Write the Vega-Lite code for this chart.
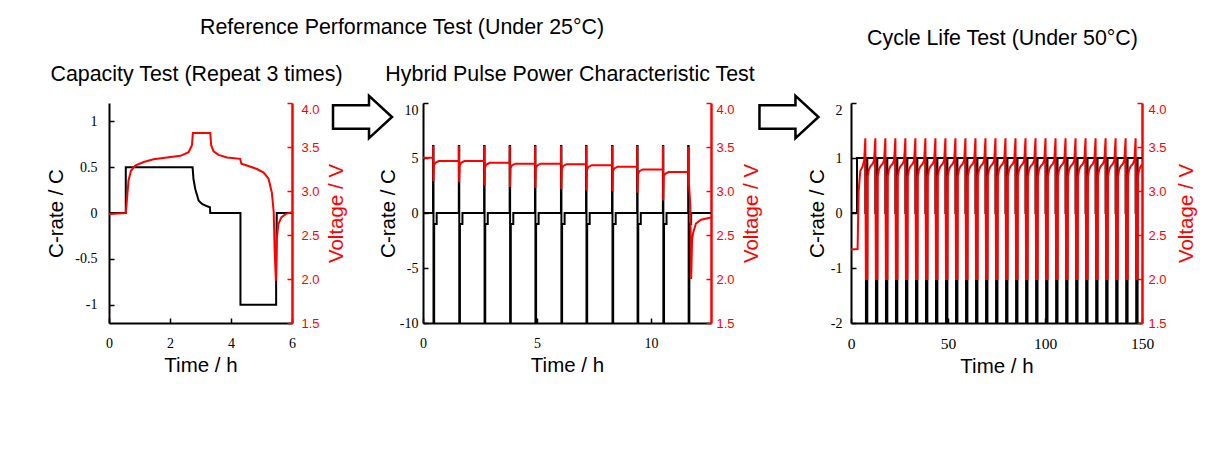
{
  "$schema": "https://vega.github.io/schema/vega-lite/v6.json",
  "background": "white",
  "padding": {"left": 46, "top": 17, "right": 5, "bottom": 5},
  "title": {"text": "Reference Performance Test (Under 25°C)", "anchor": "start", "frame": "group", "dx": 91, "offset": -11, "fontSize": 21.4},
  "bounds": "flush",
  "spacing": 10,
  "datasets": {
    "cap_c": [{"t":0,"c":0},{"t":0.55,"c":0},{"t":0.55,"c":0.5},{"t":2.74,"c":0.5},{"t":2.77,"c":0.37},{"t":2.83,"c":0.26},{"t":2.89,"c":0.19},{"t":2.94,"c":0.134},{"t":3.05,"c":0.098},{"t":3.22,"c":0.073},{"t":3.31,"c":0.062},{"t":3.32,"c":0},{"t":4.31,"c":0},{"t":4.31,"c":-1},{"t":5.48,"c":-1},{"t":5.48,"c":-0.73},{"t":5.5,"c":0},{"t":6,"c":0}],
    "cap_v": [{"t":0,"v":2.74},{"t":0.55,"v":2.75},{"t":0.59,"v":2.91},{"t":0.64,"v":3.12},{"t":0.72,"v":3.23},{"t":0.86,"v":3.29},{"t":1.14,"v":3.33},{"t":1.46,"v":3.36},{"t":1.9,"v":3.38},{"t":2.34,"v":3.4},{"t":2.61,"v":3.44},{"t":2.72,"v":3.52},{"t":2.75,"v":3.66},{"t":3.32,"v":3.66},{"t":3.35,"v":3.52},{"t":3.43,"v":3.45},{"t":3.59,"v":3.41},{"t":3.87,"v":3.38},{"t":4.3,"v":3.365},{"t":4.34,"v":3.31},{"t":4.52,"v":3.29},{"t":4.85,"v":3.25},{"t":5.07,"v":3.21},{"t":5.23,"v":3.14},{"t":5.34,"v":2.98},{"t":5.4,"v":2.76},{"t":5.43,"v":2.34},{"t":5.47,"v":1.98},{"t":5.5,"v":2.45},{"t":5.55,"v":2.62},{"t":5.65,"v":2.7},{"t":5.8,"v":2.74},{"t":6,"v":2.76}],
    "hppc_c": [{"t":0,"c":0},
      {"t":0.44,"c":0},{"t":0.44,"c":6.1},{"t":0.46,"c":6.1},{"t":0.46,"c":-10},{"t":0.49,"c":-10},{"t":0.49,"c":-1},{"t":0.6,"c":-1},{"t":0.6,"c":0},
      {"t":1.57,"c":0},{"t":1.57,"c":6.1},{"t":1.59,"c":6.1},{"t":1.59,"c":-10},{"t":1.62,"c":-10},{"t":1.62,"c":-1},{"t":1.73,"c":-1},{"t":1.73,"c":0},
      {"t":2.68,"c":0},{"t":2.68,"c":6.1},{"t":2.7,"c":6.1},{"t":2.7,"c":-10},{"t":2.73,"c":-10},{"t":2.73,"c":-1},{"t":2.84,"c":-1},{"t":2.84,"c":0},
      {"t":3.8,"c":0},{"t":3.8,"c":6.1},{"t":3.82,"c":6.1},{"t":3.82,"c":-10},{"t":3.85,"c":-10},{"t":3.85,"c":-1},{"t":3.96,"c":-1},{"t":3.96,"c":0},
      {"t":4.91,"c":0},{"t":4.91,"c":6.1},{"t":4.93,"c":6.1},{"t":4.93,"c":-10},{"t":4.96,"c":-10},{"t":4.96,"c":-1},{"t":5.07,"c":-1},{"t":5.07,"c":0},
      {"t":6.05,"c":0},{"t":6.05,"c":6.1},{"t":6.07,"c":6.1},{"t":6.07,"c":-10},{"t":6.1,"c":-10},{"t":6.1,"c":-1},{"t":6.21,"c":-1},{"t":6.21,"c":0},
      {"t":7.15,"c":0},{"t":7.15,"c":6.1},{"t":7.17,"c":6.1},{"t":7.17,"c":-10},{"t":7.2,"c":-10},{"t":7.2,"c":-1},{"t":7.31,"c":-1},{"t":7.31,"c":0},
      {"t":8.29,"c":0},{"t":8.29,"c":6.1},{"t":8.31,"c":6.1},{"t":8.31,"c":-10},{"t":8.34,"c":-10},{"t":8.34,"c":-1},{"t":8.45,"c":-1},{"t":8.45,"c":0},
      {"t":9.39,"c":0},{"t":9.39,"c":6.1},{"t":9.41,"c":6.1},{"t":9.41,"c":-10},{"t":9.44,"c":-10},{"t":9.44,"c":-1},{"t":9.55,"c":-1},{"t":9.55,"c":0},
      {"t":10.52,"c":0},{"t":10.52,"c":6.1},{"t":10.54,"c":6.1},{"t":10.54,"c":-10},{"t":10.57,"c":-10},{"t":10.57,"c":-1},{"t":10.68,"c":-1},{"t":10.68,"c":0},
      {"t":11.63,"c":0},{"t":11.63,"c":6.1},{"t":11.65,"c":6.1},{"t":11.65,"c":-10},{"t":11.68,"c":-10},{"t":11.68,"c":-1},{"t":11.76,"c":-1},{"t":11.76,"c":0},{"t":12.63,"c":0}],
    "hppc_v": [{"t":0,"v":3.378},
      {"t":0.44,"v":3.378},{"t":0.445,"v":3.51},{"t":0.455,"v":3.11},{"t":0.48,"v":3.29},{"t":0.54,"v":3.32},{"t":0.69,"v":3.34},
      {"t":1.57,"v":3.34},{"t":1.575,"v":3.51},{"t":1.585,"v":3.1},{"t":1.61,"v":3.29},{"t":1.67,"v":3.32},{"t":1.82,"v":3.34},
      {"t":2.68,"v":3.34},{"t":2.685,"v":3.51},{"t":2.695,"v":3.064},{"t":2.72,"v":3.27},{"t":2.78,"v":3.3},{"t":2.93,"v":3.32},
      {"t":3.8,"v":3.32},{"t":3.805,"v":3.51},{"t":3.815,"v":3.045},{"t":3.84,"v":3.26},{"t":3.9,"v":3.29},{"t":4.05,"v":3.31},
      {"t":4.91,"v":3.31},{"t":4.915,"v":3.51},{"t":4.925,"v":3.034},{"t":4.95,"v":3.26},{"t":5.01,"v":3.29},{"t":5.16,"v":3.31},
      {"t":6.05,"v":3.31},{"t":6.055,"v":3.51},{"t":6.065,"v":3.02},{"t":6.09,"v":3.255},{"t":6.15,"v":3.285},{"t":6.3,"v":3.305},
      {"t":7.15,"v":3.305},{"t":7.155,"v":3.51},{"t":7.165,"v":3.007},{"t":7.19,"v":3.243},{"t":7.25,"v":3.273},{"t":7.4,"v":3.293},
      {"t":8.29,"v":3.293},{"t":8.295,"v":3.51},{"t":8.305,"v":2.996},{"t":8.33,"v":3.226},{"t":8.39,"v":3.256},{"t":8.54,"v":3.276},
      {"t":9.39,"v":3.276},{"t":9.395,"v":3.51},{"t":9.405,"v":2.98},{"t":9.43,"v":3.195},{"t":9.49,"v":3.225},{"t":9.64,"v":3.245},
      {"t":10.52,"v":3.245},{"t":10.525,"v":3.51},{"t":10.535,"v":2.893},{"t":10.56,"v":3.166},{"t":10.62,"v":3.196},{"t":10.77,"v":3.216},
      {"t":11.63,"v":3.216},{"t":11.635,"v":3.5},{"t":11.645,"v":3.05},{"t":11.66,"v":3.1},{"t":11.72,"v":2.85},{"t":11.76,"v":2.0},{"t":11.8,"v":2.45},{"t":11.85,"v":2.53},{"t":11.97,"v":2.63},{"t":12.19,"v":2.674},{"t":12.63,"v":2.7}],
    "cycle_c": [{"t":0,"c":0},{"t":3.1,"c":0},{"t":3.1,"c":1},
      {"t":7.4,"c":1},{"t":7.4,"c":0},{"t":7.7,"c":0},{"t":7.7,"c":-2},{"t":8.4,"c":-2},{"t":8.4,"c":1},
      {"t":12.56,"c":1},{"t":12.56,"c":0},{"t":12.86,"c":0},{"t":12.86,"c":-2},{"t":13.56,"c":-2},{"t":13.56,"c":1},
      {"t":17.72,"c":1},{"t":17.72,"c":0},{"t":18.02,"c":0},{"t":18.02,"c":-2},{"t":18.72,"c":-2},{"t":18.72,"c":1},
      {"t":22.88,"c":1},{"t":22.88,"c":0},{"t":23.18,"c":0},{"t":23.18,"c":-2},{"t":23.88,"c":-2},{"t":23.88,"c":1},
      {"t":28.04,"c":1},{"t":28.04,"c":0},{"t":28.34,"c":0},{"t":28.34,"c":-2},{"t":29.04,"c":-2},{"t":29.04,"c":1},
      {"t":33.2,"c":1},{"t":33.2,"c":0},{"t":33.5,"c":0},{"t":33.5,"c":-2},{"t":34.2,"c":-2},{"t":34.2,"c":1},
      {"t":38.36,"c":1},{"t":38.36,"c":0},{"t":38.66,"c":0},{"t":38.66,"c":-2},{"t":39.36,"c":-2},{"t":39.36,"c":1},
      {"t":43.52,"c":1},{"t":43.52,"c":0},{"t":43.82,"c":0},{"t":43.82,"c":-2},{"t":44.52,"c":-2},{"t":44.52,"c":1},
      {"t":48.68,"c":1},{"t":48.68,"c":0},{"t":48.98,"c":0},{"t":48.98,"c":-2},{"t":49.68,"c":-2},{"t":49.68,"c":1},
      {"t":53.84,"c":1},{"t":53.84,"c":0},{"t":54.14,"c":0},{"t":54.14,"c":-2},{"t":54.84,"c":-2},{"t":54.84,"c":1},
      {"t":59,"c":1},{"t":59,"c":0},{"t":59.3,"c":0},{"t":59.3,"c":-2},{"t":60,"c":-2},{"t":60,"c":1},
      {"t":64.16,"c":1},{"t":64.16,"c":0},{"t":64.46,"c":0},{"t":64.46,"c":-2},{"t":65.16,"c":-2},{"t":65.16,"c":1},
      {"t":69.32,"c":1},{"t":69.32,"c":0},{"t":69.62,"c":0},{"t":69.62,"c":-2},{"t":70.32,"c":-2},{"t":70.32,"c":1},
      {"t":74.48,"c":1},{"t":74.48,"c":0},{"t":74.78,"c":0},{"t":74.78,"c":-2},{"t":75.48,"c":-2},{"t":75.48,"c":1},
      {"t":79.64,"c":1},{"t":79.64,"c":0},{"t":79.94,"c":0},{"t":79.94,"c":-2},{"t":80.64,"c":-2},{"t":80.64,"c":1},
      {"t":84.8,"c":1},{"t":84.8,"c":0},{"t":85.1,"c":0},{"t":85.1,"c":-2},{"t":85.8,"c":-2},{"t":85.8,"c":1},
      {"t":89.96,"c":1},{"t":89.96,"c":0},{"t":90.26,"c":0},{"t":90.26,"c":-2},{"t":90.96,"c":-2},{"t":90.96,"c":1},
      {"t":95.12,"c":1},{"t":95.12,"c":0},{"t":95.42,"c":0},{"t":95.42,"c":-2},{"t":96.12,"c":-2},{"t":96.12,"c":1},
      {"t":100.28,"c":1},{"t":100.28,"c":0},{"t":100.58,"c":0},{"t":100.58,"c":-2},{"t":101.28,"c":-2},{"t":101.28,"c":1},
      {"t":105.44,"c":1},{"t":105.44,"c":0},{"t":105.74,"c":0},{"t":105.74,"c":-2},{"t":106.44,"c":-2},{"t":106.44,"c":1},
      {"t":110.6,"c":1},{"t":110.6,"c":0},{"t":110.9,"c":0},{"t":110.9,"c":-2},{"t":111.6,"c":-2},{"t":111.6,"c":1},
      {"t":115.76,"c":1},{"t":115.76,"c":0},{"t":116.06,"c":0},{"t":116.06,"c":-2},{"t":116.76,"c":-2},{"t":116.76,"c":1},
      {"t":120.92,"c":1},{"t":120.92,"c":0},{"t":121.22,"c":0},{"t":121.22,"c":-2},{"t":121.92,"c":-2},{"t":121.92,"c":1},
      {"t":126.08,"c":1},{"t":126.08,"c":0},{"t":126.38,"c":0},{"t":126.38,"c":-2},{"t":127.08,"c":-2},{"t":127.08,"c":1},
      {"t":131.24,"c":1},{"t":131.24,"c":0},{"t":131.54,"c":0},{"t":131.54,"c":-2},{"t":132.24,"c":-2},{"t":132.24,"c":1},
      {"t":136.4,"c":1},{"t":136.4,"c":0},{"t":136.7,"c":0},{"t":136.7,"c":-2},{"t":137.4,"c":-2},{"t":137.4,"c":1},
      {"t":141.56,"c":1},{"t":141.56,"c":0},{"t":141.86,"c":0},{"t":141.86,"c":-2},{"t":142.56,"c":-2},{"t":142.56,"c":1},
      {"t":146.72,"c":1},{"t":146.72,"c":0},{"t":147.02,"c":0},{"t":147.02,"c":-2},{"t":147.72,"c":-2},{"t":147.72,"c":1},
      {"t":150,"c":1}],
    "cycle_v": [{"t":0,"v":2.336},{"t":3.4,"v":2.34},{"t":3.9,"v":2.99},{"t":4.8,"v":3.23},{"t":6,"v":3.28},{"t":6.8,"v":3.35},
      {"t":7.4,"v":3.6},{"t":7.7,"v":2},{"t":8.4,"v":2},{"t":8.6,"v":3.16},{"t":9.2,"v":3.24},{"t":10,"v":3.28},{"t":11.2,"v":3.31},{"t":11.9,"v":3.35},
      {"t":12.56,"v":3.6},{"t":12.86,"v":2},{"t":13.56,"v":2},{"t":13.76,"v":3.16},{"t":14.36,"v":3.24},{"t":15.16,"v":3.28},{"t":16.36,"v":3.31},{"t":17.06,"v":3.35},
      {"t":17.72,"v":3.6},{"t":18.02,"v":2},{"t":18.72,"v":2},{"t":18.92,"v":3.16},{"t":19.52,"v":3.24},{"t":20.32,"v":3.28},{"t":21.52,"v":3.31},{"t":22.22,"v":3.35},
      {"t":22.88,"v":3.6},{"t":23.18,"v":2},{"t":23.88,"v":2},{"t":24.08,"v":3.16},{"t":24.68,"v":3.24},{"t":25.48,"v":3.28},{"t":26.68,"v":3.31},{"t":27.38,"v":3.35},
      {"t":28.04,"v":3.6},{"t":28.34,"v":2},{"t":29.04,"v":2},{"t":29.24,"v":3.16},{"t":29.84,"v":3.24},{"t":30.64,"v":3.28},{"t":31.84,"v":3.31},{"t":32.54,"v":3.35},
      {"t":33.2,"v":3.6},{"t":33.5,"v":2},{"t":34.2,"v":2},{"t":34.4,"v":3.16},{"t":35,"v":3.24},{"t":35.8,"v":3.28},{"t":37,"v":3.31},{"t":37.7,"v":3.35},
      {"t":38.36,"v":3.6},{"t":38.66,"v":2},{"t":39.36,"v":2},{"t":39.56,"v":3.16},{"t":40.16,"v":3.24},{"t":40.96,"v":3.28},{"t":42.16,"v":3.31},{"t":42.86,"v":3.35},
      {"t":43.52,"v":3.6},{"t":43.82,"v":2},{"t":44.52,"v":2},{"t":44.72,"v":3.16},{"t":45.32,"v":3.24},{"t":46.12,"v":3.28},{"t":47.32,"v":3.31},{"t":48.02,"v":3.35},
      {"t":48.68,"v":3.6},{"t":48.98,"v":2},{"t":49.68,"v":2},{"t":49.88,"v":3.16},{"t":50.48,"v":3.24},{"t":51.28,"v":3.28},{"t":52.48,"v":3.31},{"t":53.18,"v":3.35},
      {"t":53.84,"v":3.6},{"t":54.14,"v":2},{"t":54.84,"v":2},{"t":55.04,"v":3.16},{"t":55.64,"v":3.24},{"t":56.44,"v":3.28},{"t":57.64,"v":3.31},{"t":58.34,"v":3.35},
      {"t":59,"v":3.6},{"t":59.3,"v":2},{"t":60,"v":2},{"t":60.2,"v":3.16},{"t":60.8,"v":3.24},{"t":61.6,"v":3.28},{"t":62.8,"v":3.31},{"t":63.5,"v":3.35},
      {"t":64.16,"v":3.6},{"t":64.46,"v":2},{"t":65.16,"v":2},{"t":65.36,"v":3.16},{"t":65.96,"v":3.24},{"t":66.76,"v":3.28},{"t":67.96,"v":3.31},{"t":68.66,"v":3.35},
      {"t":69.32,"v":3.6},{"t":69.62,"v":2},{"t":70.32,"v":2},{"t":70.52,"v":3.16},{"t":71.12,"v":3.24},{"t":71.92,"v":3.28},{"t":73.12,"v":3.31},{"t":73.82,"v":3.35},
      {"t":74.48,"v":3.6},{"t":74.78,"v":2},{"t":75.48,"v":2},{"t":75.68,"v":3.16},{"t":76.28,"v":3.24},{"t":77.08,"v":3.28},{"t":78.28,"v":3.31},{"t":78.98,"v":3.35},
      {"t":79.64,"v":3.6},{"t":79.94,"v":2},{"t":80.64,"v":2},{"t":80.84,"v":3.16},{"t":81.44,"v":3.24},{"t":82.24,"v":3.28},{"t":83.44,"v":3.31},{"t":84.14,"v":3.35},
      {"t":84.8,"v":3.6},{"t":85.1,"v":2},{"t":85.8,"v":2},{"t":86,"v":3.16},{"t":86.6,"v":3.24},{"t":87.4,"v":3.28},{"t":88.6,"v":3.31},{"t":89.3,"v":3.35},
      {"t":89.96,"v":3.6},{"t":90.26,"v":2},{"t":90.96,"v":2},{"t":91.16,"v":3.16},{"t":91.76,"v":3.24},{"t":92.56,"v":3.28},{"t":93.76,"v":3.31},{"t":94.46,"v":3.35},
      {"t":95.12,"v":3.6},{"t":95.42,"v":2},{"t":96.12,"v":2},{"t":96.32,"v":3.16},{"t":96.92,"v":3.24},{"t":97.72,"v":3.28},{"t":98.92,"v":3.31},{"t":99.62,"v":3.35},
      {"t":100.28,"v":3.6},{"t":100.58,"v":2},{"t":101.28,"v":2},{"t":101.48,"v":3.16},{"t":102.08,"v":3.24},{"t":102.88,"v":3.28},{"t":104.08,"v":3.31},{"t":104.78,"v":3.35},
      {"t":105.44,"v":3.6},{"t":105.74,"v":2},{"t":106.44,"v":2},{"t":106.64,"v":3.16},{"t":107.24,"v":3.24},{"t":108.04,"v":3.28},{"t":109.24,"v":3.31},{"t":109.94,"v":3.35},
      {"t":110.6,"v":3.6},{"t":110.9,"v":2},{"t":111.6,"v":2},{"t":111.8,"v":3.16},{"t":112.4,"v":3.24},{"t":113.2,"v":3.28},{"t":114.4,"v":3.31},{"t":115.1,"v":3.35},
      {"t":115.76,"v":3.6},{"t":116.06,"v":2},{"t":116.76,"v":2},{"t":116.96,"v":3.16},{"t":117.56,"v":3.24},{"t":118.36,"v":3.28},{"t":119.56,"v":3.31},{"t":120.26,"v":3.35},
      {"t":120.92,"v":3.6},{"t":121.22,"v":2},{"t":121.92,"v":2},{"t":122.12,"v":3.16},{"t":122.72,"v":3.24},{"t":123.52,"v":3.28},{"t":124.72,"v":3.31},{"t":125.42,"v":3.35},
      {"t":126.08,"v":3.6},{"t":126.38,"v":2},{"t":127.08,"v":2},{"t":127.28,"v":3.16},{"t":127.88,"v":3.24},{"t":128.68,"v":3.28},{"t":129.88,"v":3.31},{"t":130.58,"v":3.35},
      {"t":131.24,"v":3.6},{"t":131.54,"v":2},{"t":132.24,"v":2},{"t":132.44,"v":3.16},{"t":133.04,"v":3.24},{"t":133.84,"v":3.28},{"t":135.04,"v":3.31},{"t":135.74,"v":3.35},
      {"t":136.4,"v":3.6},{"t":136.7,"v":2},{"t":137.4,"v":2},{"t":137.6,"v":3.16},{"t":138.2,"v":3.24},{"t":139,"v":3.28},{"t":140.2,"v":3.31},{"t":140.9,"v":3.35},
      {"t":141.56,"v":3.6},{"t":141.86,"v":2},{"t":142.56,"v":2},{"t":142.76,"v":3.16},{"t":143.36,"v":3.24},{"t":144.16,"v":3.28},{"t":145.36,"v":3.31},{"t":146.06,"v":3.35},
      {"t":146.72,"v":3.6},{"t":147.02,"v":2},{"t":147.72,"v":2},{"t":147.92,"v":3.16},{"t":148.52,"v":3.24},{"t":149.32,"v":3.28},{"t":150,"v":3.3}]
  },
  "hconcat": [
    {
      "width": 183, "height": 220,
      "title": {"text": "Capacity Test (Repeat 3 times)", "frame": "group", "offset": 17, "dx": -4},
      "layer": [
        {
          "data": {"name": "cap_c"},
          "mark": {"type": "line", "color": "black", "strokeWidth": 2, "clip": true},
          "encoding": {
            "x": {"field": "t", "type": "quantitative", "scale": {"domain": [0, 6], "nice": false, "zero": false},
                  "axis": {"values": [0, 2, 4, 6], "title": "Time / h", "labelPadding": 18, "titlePadding": 5}},
            "y": {"field": "c", "type": "quantitative", "scale": {"domain": [-1.2, 1.2], "nice": false, "zero": false},
                  "axis": {"orient": "left", "values": [-1, -0.5, 0, 0.5, 1], "format": "~g", "labelExpr": "replace(datum.label, '−', '-')", "title": "C-rate / C", "labelPadding": 17, "titlePadding": 8}},
            "order": {"value": null}
          }
        },
        {
          "data": {"name": "cap_v"},
          "mark": {"type": "line", "color": "#ff0000", "strokeWidth": 2, "clip": true},
          "encoding": {
            "x": {"field": "t", "type": "quantitative", "scale": {"domain": [0, 6], "nice": false, "zero": false}, "title": "Time / h"},
            "y": {"field": "v", "type": "quantitative", "scale": {"domain": [1.5, 4], "nice": false, "zero": false},
                  "axis": {"orient": "right", "values": [1.5, 2, 2.5, 3, 3.5, 4], "format": ".1f", "title": "Voltage / V", "labelPadding": 14, "titlePadding": 7, "titleAngle": 270, "titleBaseline": "top",
                           "labelFont": "Liberation Sans", "labelFontSize": 13, "labelColor": "#ff0000", "domainColor": "#ff0000", "domainWidth": 2.5, "tickColor": "#ff0000", "titleColor": "#ff0000",
                           "labelBaseline": {"condition": {"test": "datum.value == 4", "value": "top"}, "value": "middle"}}},
            "order": {"value": null}
          }
        }
      ],
      "resolve": {"scale": {"y": "independent"}}
    },
    {
      "width": 111, "height": 28,
      "data": {"values": [{"step": "capacity to pulse test"}]},
      "mark": {"type": "point", "shape": "M-0.83,-0.4L0.39,-0.4L0.39,-0.72L1.17,0L0.39,0.72L0.39,0.4L-0.83,0.4Z", "size": 3481, "filled": true, "fill": "white", "stroke": "black", "strokeWidth": 2.5, "opacity": 1, "strokeJoin": "miter"},
      "encoding": {}
    },
    {
      "width": 288, "height": 220,
      "title": {"text": "Hybrid Pulse Power Characteristic Test", "frame": "group", "offset": 17, "dx": 3},
      "layer": [
        {
          "data": {"name": "hppc_c"},
          "mark": {"type": "line", "color": "black", "strokeWidth": 2, "clip": true},
          "encoding": {
            "x": {"field": "t", "type": "quantitative", "scale": {"domain": [0, 12.63], "nice": false, "zero": false},
                  "axis": {"values": [0, 5, 10], "title": "Time / h", "labelPadding": 18, "titlePadding": 5}},
            "y": {"field": "c", "type": "quantitative", "scale": {"domain": [-10, 10], "nice": false, "zero": false},
                  "axis": {"orient": "left", "values": [-10, -5, 0, 5, 10], "format": "d", "labelExpr": "replace(datum.label, '−', '-')", "title": "C-rate / C", "labelPadding": 10, "titlePadding": 1,
                           "labelBaseline": {"condition": {"test": "datum.value == 10", "value": "top"}, "value": "middle"}}},
            "order": {"value": null}
          }
        },
        {
          "data": {"name": "hppc_v"},
          "mark": {"type": "line", "color": "#ff0000", "strokeWidth": 2, "clip": true},
          "encoding": {
            "x": {"field": "t", "type": "quantitative", "scale": {"domain": [0, 12.63], "nice": false, "zero": false}, "title": "Time / h"},
            "y": {"field": "v", "type": "quantitative", "scale": {"domain": [1.5, 4], "nice": false, "zero": false},
                  "axis": {"orient": "right", "values": [1.5, 2, 2.5, 3, 3.5, 4], "format": ".1f", "title": "Voltage / V", "labelPadding": 10, "titlePadding": 7, "titleAngle": 270, "titleBaseline": "top",
                           "labelFont": "Liberation Sans", "labelFontSize": 13, "labelColor": "#ff0000", "domainColor": "#ff0000", "domainWidth": 2.5, "tickColor": "#ff0000", "titleColor": "#ff0000",
                           "labelBaseline": {"condition": {"test": "datum.value == 4", "value": "top"}, "value": "middle"}}},
            "order": {"value": null}
          }
        }
      ],
      "resolve": {"scale": {"y": "independent"}}
    },
    {
      "width": 120, "height": 28,
      "data": {"values": [{"step": "reference test to cycling"}]},
      "mark": {"type": "point", "shape": "M-0.73,-0.4L0.49,-0.4L0.49,-0.72L1.27,0L0.49,0.72L0.49,0.4L-0.73,0.4Z", "size": 3481, "filled": true, "fill": "white", "stroke": "black", "strokeWidth": 2.5, "opacity": 1, "strokeJoin": "miter"},
      "encoding": {}
    },
    {
      "width": 291, "height": 220,
      "title": {"text": "Cycle Life Test (Under 50°C)", "frame": "group", "offset": 53, "dx": 6},
      "layer": [
        {
          "data": {"name": "cycle_c"},
          "mark": {"type": "line", "color": "black", "strokeWidth": 2, "clip": true},
          "encoding": {
            "x": {"field": "t", "type": "quantitative", "scale": {"domain": [0, 150], "nice": false, "zero": false},
                  "axis": {"values": [0, 50, 100, 150], "title": "Time / h", "labelPadding": 18, "titlePadding": 5, "labelFontSize": 15.5}},
            "y": {"field": "c", "type": "quantitative", "scale": {"domain": [-2, 2], "nice": false, "zero": false},
                  "axis": {"orient": "left", "values": [-2, -1, 0, 1, 2], "format": "d", "labelExpr": "replace(datum.label, '−', '-')", "title": "C-rate / C", "labelPadding": 14, "titlePadding": 3,
                           "labelBaseline": {"condition": {"test": "datum.value == 2", "value": "top"}, "value": "middle"}}},
            "order": {"value": null}
          }
        },
        {
          "data": {"name": "cycle_v"},
          "mark": {"type": "line", "color": "#ff0000", "strokeWidth": 2, "clip": true},
          "encoding": {
            "x": {"field": "t", "type": "quantitative", "scale": {"domain": [0, 150], "nice": false, "zero": false}, "title": "Time / h"},
            "y": {"field": "v", "type": "quantitative", "scale": {"domain": [1.5, 4], "nice": false, "zero": false},
                  "axis": {"orient": "right", "values": [1.5, 2, 2.5, 3, 3.5, 4], "format": ".1f", "title": "Voltage / V", "labelPadding": 11, "titlePadding": 10, "titleAngle": 270, "titleBaseline": "top",
                           "labelFont": "Liberation Sans", "labelFontSize": 13, "labelColor": "#ff0000", "domainColor": "#ff0000", "domainWidth": 2.5, "tickColor": "#ff0000", "titleColor": "#ff0000",
                           "labelBaseline": {"condition": {"test": "datum.value == 4", "value": "top"}, "value": "middle"}}},
            "order": {"value": null}
          }
        }
      ],
      "resolve": {"scale": {"y": "independent"}}
    }
  ],
  "config": {
    "view": {"stroke": null},
    "axis": {"grid": false, "domainColor": "black", "domainWidth": 2, "tickColor": "black", "tickWidth": 1.5, "tickSize": -5,
             "labelFont": "Liberation Serif", "labelFontSize": 14, "labelColor": "black", "labelFlush": false, "labelOverlap": false,
             "titleFont": "Liberation Sans", "titleFontSize": 20.5, "titleFontWeight": "normal", "titleColor": "black"},
    "title": {"font": "Liberation Sans", "fontSize": 21.4, "fontWeight": "normal", "color": "black"}
  }
}
